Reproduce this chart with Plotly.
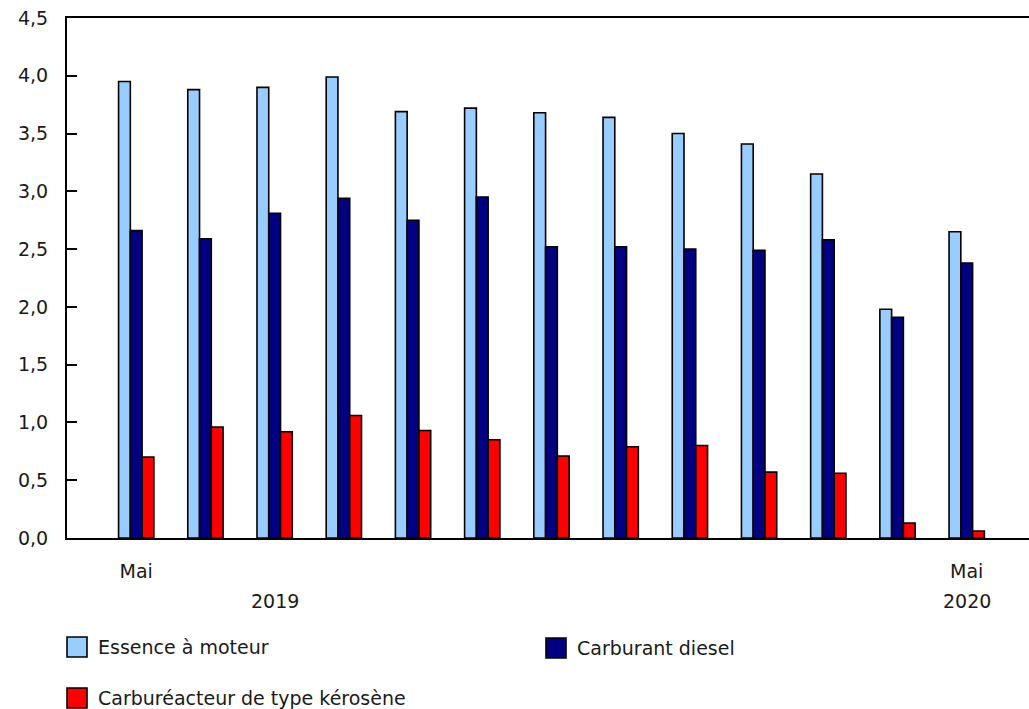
import plotly.graph_objects as go

# Monthly values, May 2019 to May 2020
months = ["mai 2019", "juin 2019", "juil. 2019", "août 2019", "sept. 2019",
          "oct. 2019", "nov. 2019", "déc. 2019", "janv. 2020", "févr. 2020",
          "mars 2020", "avr. 2020", "mai 2020"]

essence = [3.95, 3.88, 3.90, 3.99, 3.69, 3.72, 3.68, 3.64, 3.50, 3.41, 3.15, 1.98, 2.65]
diesel = [2.66, 2.59, 2.81, 2.94, 2.75, 2.95, 2.52, 2.52, 2.50, 2.49, 2.58, 1.91, 2.38]
kerosene = [0.70, 0.96, 0.92, 1.06, 0.93, 0.85, 0.71, 0.79, 0.80, 0.57, 0.56, 0.13, 0.06]

series_names = ["Essence à moteur", "Carburant diesel", "Carburéacteur de type kérosène"]
series_colors = ["#99CCFF", "#000080", "#FF0000"]
series_values = [essence, diesel, kerosene]

tick_months = [months[0], months[-1]]
tick_text = ["Mai", "Mai"]
year_labels = ["2019", "2020"]
year_positions = [months[2], months[12]]

FONT = "DejaVu Sans, Verdana, sans-serif"
TEXT_COLOR = "#1a1a1a"
W, H = 1029, 709
ML, MR, MT, MB = 67, 0, 18, 171

fig = go.Figure()
for name, color, vals in zip(series_names, series_colors, series_values):
    fig.add_trace(go.Bar(
        x=months, y=vals, name=name,
        marker=dict(color=color, line=dict(color="#000000", width=1.6)),
        showlegend=False,
    ))

# Legend drawn as square swatches with labels underneath the plot
plot_w = W - ML - MR
plot_h = H - MT - MB
def px_to_paper_x(px):
    return (px - ML) / plot_w
def px_to_paper_y(py):
    return (H - MB - py) / plot_h

legend_pos = [(67, 637), (546, 638), (67, 688)]
shapes = []
annotations = []
for (lx, ly), name, color in zip(legend_pos, series_names, series_colors):
    shapes.append(dict(
        type="rect", xref="paper", yref="paper",
        x0=px_to_paper_x(lx), x1=px_to_paper_x(lx + 20),
        y0=px_to_paper_y(ly), y1=px_to_paper_y(ly + 20),
        fillcolor=color, line=dict(color="#000000", width=1.6),
    ))
    annotations.append(dict(
        text=name, xref="paper", yref="paper",
        x=px_to_paper_x(lx + 29), y=px_to_paper_y(ly + 10),
        xanchor="left", yanchor="middle", showarrow=False,
        font=dict(family=FONT, size=19, color=TEXT_COLOR),
    ))

for label, pos in zip(year_labels, year_positions):
    annotations.append(dict(
        text=label, xref="x", yref="paper", x=pos,
        y=px_to_paper_y(601), xanchor="center", yanchor="middle",
        showarrow=False, font=dict(family=FONT, size=19, color=TEXT_COLOR),
    ))

fig.update_layout(
    width=W, height=H,
    margin=dict(l=ML, r=MR, t=MT, b=MB, pad=0),
    paper_bgcolor="white", plot_bgcolor="white",
    barmode="group", bargap=0.49, bargroupgap=0,
    separators=",.",
    font=dict(family=FONT, size=19, color=TEXT_COLOR),
    shapes=shapes, annotations=annotations,
)
fig.update_xaxes(
    type="category", range=[-1, 12.9],
    showline=True, linecolor="#000000", linewidth=2, mirror=True,
    showgrid=False, zeroline=False, ticks="",
    tickmode="array", tickvals=tick_months, ticktext=tick_text,
    ticklabelstandoff=15,
    tickfont=dict(family=FONT, size=19, color=TEXT_COLOR),
)
fig.update_yaxes(
    range=[0, 4.5], dtick=0.5, tick0=0, tickformat=".1f",
    showline=True, linecolor="#000000", linewidth=2,
    showgrid=False, zeroline=False,
    ticks="inside", ticklen=10, tickwidth=2, tickcolor="#000000",
    ticklabelstandoff=13,
    tickfont=dict(family=FONT, size=19, color=TEXT_COLOR),
)

fig.write_html("out.html")
